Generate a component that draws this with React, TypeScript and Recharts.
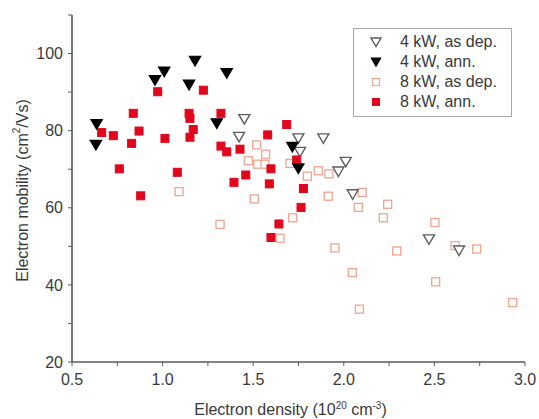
import React from 'react';
import { ScatterChart, Scatter, XAxis, YAxis } from 'recharts';

const asDep4kW = [
  { x: 1.451, y: 83.0 }, { x: 1.422, y: 78.4 }, { x: 1.749, y: 78.0 }, { x: 1.758, y: 74.5 },
  { x: 1.887, y: 78.0 }, { x: 2.011, y: 71.9 }, { x: 1.970, y: 69.4 }, { x: 2.049, y: 63.5 },
  { x: 2.470, y: 51.8 }, { x: 2.636, y: 48.9 },
];
const ann4kW = [
  { x: 0.636, y: 81.7 }, { x: 0.632, y: 76.3 }, { x: 0.958, y: 93.1 }, { x: 1.009, y: 95.3 },
  { x: 1.179, y: 98.1 }, { x: 1.146, y: 91.9 }, { x: 1.354, y: 94.9 }, { x: 1.299, y: 81.9 },
  { x: 1.716, y: 75.8 }, { x: 1.749, y: 70.2 },
];
const asDep8kW = [
  { x: 1.091, y: 64.2 }, { x: 1.506, y: 62.3 }, { x: 1.519, y: 76.3 }, { x: 1.569, y: 73.9 },
  { x: 1.473, y: 72.2 }, { x: 1.525, y: 71.3 }, { x: 1.565, y: 71.3 }, { x: 1.703, y: 71.5 },
  { x: 1.799, y: 68.2 }, { x: 1.859, y: 69.6 }, { x: 1.918, y: 68.8 }, { x: 1.718, y: 57.4 },
  { x: 1.317, y: 55.7 }, { x: 1.648, y: 52.1 }, { x: 1.914, y: 63.0 }, { x: 2.080, y: 60.1 },
  { x: 2.102, y: 64.0 }, { x: 2.242, y: 60.9 }, { x: 2.218, y: 57.4 }, { x: 1.951, y: 49.6 },
  { x: 2.292, y: 48.8 }, { x: 2.047, y: 43.2 }, { x: 2.503, y: 56.2 }, { x: 2.614, y: 50.2 },
  { x: 2.733, y: 49.3 }, { x: 2.507, y: 40.8 }, { x: 2.932, y: 35.4 }, { x: 2.086, y: 33.7 },
];
const ann8kW = [
  { x: 0.973, y: 90.1 }, { x: 1.225, y: 90.5 }, { x: 0.838, y: 84.5 }, { x: 0.664, y: 79.5 },
  { x: 0.728, y: 78.7 }, { x: 0.870, y: 79.9 }, { x: 0.829, y: 76.7 }, { x: 1.013, y: 78.0 },
  { x: 0.761, y: 70.1 }, { x: 0.879, y: 63.1 }, { x: 1.146, y: 84.5 }, { x: 1.151, y: 83.2 },
  { x: 1.169, y: 80.3 }, { x: 1.151, y: 78.3 }, { x: 1.081, y: 69.2 }, { x: 1.322, y: 84.5 },
  { x: 1.322, y: 76.0 }, { x: 1.354, y: 74.5 }, { x: 1.427, y: 75.2 }, { x: 1.394, y: 66.6 },
  { x: 1.459, y: 68.5 }, { x: 1.580, y: 78.9 }, { x: 1.598, y: 70.1 }, { x: 1.589, y: 66.2 },
  { x: 1.685, y: 81.6 }, { x: 1.740, y: 72.4 }, { x: 1.777, y: 65.0 }, { x: 1.764, y: 60.1 },
  { x: 1.642, y: 55.8 }, { x: 1.598, y: 52.3 },
];

const xTicks = [0.5, 0.75, 1.0, 1.25, 1.5, 1.75, 2.0, 2.25, 2.5, 2.75, 3.0];
const yTicks = [20, 30, 40, 50, 60, 70, 80, 90, 100, 110];

const legendLabels = ['4 kW, as dep.', '4 kW, ann.', '8 kW, as dep.', '8 kW, ann.'];

const FONT = '"Liberation Sans", Arial, sans-serif';
const TEXT = '#3a3a3a';
const FRAME = '#5a5a5a';
const RED = '#e0061c';
const SALMON = '#f2a48e';
const GRAY_TRI = '#5e5e5e';

const downTri = (fill: string, stroke: string) => (props: any) => {
  const { cx, cy } = props;
  if (cx == null || cy == null) return <g />;
  const pts = `${cx - 5.5},${cy - 4.5} ${cx + 5.5},${cy - 4.5} ${cx},${cy + 5}`;
  return <polygon points={pts} fill={fill} stroke={stroke} strokeWidth={1.4} />;
};
const square = (fill: string, stroke: string, size: number, sw: number) => (props: any) => {
  const { cx, cy } = props;
  if (cx == null || cy == null) return <g />;
  return <rect x={cx - size / 2} y={cy - size / 2} width={size} height={size} fill={fill} stroke={stroke} strokeWidth={sw} />;
};

const XTitle = (props: any) => {
  const vb = props.viewBox || { x: 72, y: 362, width: 453, height: 57 };
  const cx = vb.x + vb.width / 2 - 8;
  const y = vb.y + 53;
  return (
    <text x={cx} y={y} textAnchor="middle" fontSize={16} fill={TEXT} fontFamily={FONT}>
      Electron density (10
      <tspan dy={-6} fontSize={10}>20</tspan>
      <tspan dy={6}> cm</tspan>
      <tspan dy={-6} fontSize={10}>-3</tspan>
      <tspan dy={6}>)</tspan>
    </text>
  );
};

const YTitle = (props: any) => {
  const vb = props.viewBox || { x: 0, y: 15, width: 72, height: 347 };
  const cx = 22;
  const cy = vb.y + vb.height / 2 + 2;
  return (
    <text x={cx} y={cy} transform={`rotate(-90, ${cx}, ${cy})`} textAnchor="middle" dominantBaseline="central" fontSize={16} fill={TEXT} fontFamily={FONT}>
      Electron mobility (cm
      <tspan dy={-6} fontSize={10}>2</tspan>
      <tspan dy={6}>/Vs)</tspan>
    </text>
  );
};

const xFmt = (v: number) => (Math.abs(v * 2 - Math.round(v * 2)) < 1e-6 ? v.toFixed(1) : '');
const yFmt = (v: number) => (v % 20 === 0 ? String(v) : '');

const LegendMarker = ({ i }: { i: number }) => {
  const c = 7, cy = 7;
  let el: React.ReactNode = null;
  if (i === 0) el = <polygon points={`${c - 5},${cy - 4} ${c + 5},${cy - 4} ${c},${cy + 4.5}`} fill="#fff" stroke={GRAY_TRI} strokeWidth={1.4} />;
  if (i === 1) el = <polygon points={`${c - 5},${cy - 4} ${c + 5},${cy - 4} ${c},${cy + 4.5}`} fill="#000" stroke="#000" strokeWidth={1} />;
  if (i === 2) el = <rect x={c - 3.5} y={cy - 3.5} width={7} height={7} fill="#fff" stroke={SALMON} strokeWidth={1.2} />;
  if (i === 3) el = <rect x={c - 4} y={cy - 4} width={8} height={8} fill={RED} />;
  return <svg width={14} height={14} style={{ position: 'absolute', left: 15, top: -7 }}>{el}</svg>;
};

export default function App() {
  return (
    <div style={{ position: 'absolute', left: 0, top: 0, width: 539, height: 419, background: '#fff' }}>
      <ScatterChart width={539} height={419} margin={{ top: 15, right: 14, left: 0, bottom: 0 }}>
        <XAxis
          type="number" dataKey="x" domain={[0.5, 3]} ticks={xTicks} allowDataOverflow
          height={57} tickFormatter={xFmt} tickSize={4} tickMargin={8}
          axisLine={{ stroke: FRAME, strokeWidth: 1.6 }} tickLine={{ stroke: FRAME }}
          tick={{ fill: TEXT, fontSize: 16, fontFamily: FONT }}
          label={<XTitle />} interval={0}
        />
        <XAxis
          xAxisId="top" orientation="top" type="number" dataKey="x" domain={[0.5, 3]} ticks={xTicks}
          allowDataOverflow height={0} mirror tickFormatter={() => ''} tickSize={3}
          axisLine={{ stroke: FRAME, strokeWidth: 1.6 }} tickLine={{ stroke: FRAME }} interval={0}
        />
        <YAxis
          type="number" dataKey="y" domain={[20, 110]} ticks={yTicks} allowDataOverflow
          width={72} tickFormatter={yFmt} tickSize={4} tickMargin={5}
          axisLine={{ stroke: FRAME, strokeWidth: 1.6 }} tickLine={{ stroke: FRAME }}
          tick={{ fill: TEXT, fontSize: 16, fontFamily: FONT }}
          label={<YTitle />} interval={0}
        />
        <YAxis
          yAxisId="right" orientation="right" type="number" dataKey="y" domain={[20, 110]} ticks={yTicks}
          allowDataOverflow width={0} mirror tickFormatter={() => ''} tickSize={3}
          axisLine={{ stroke: FRAME, strokeWidth: 1.6 }} tickLine={{ stroke: FRAME }} interval={0}
        />
        <Scatter name={legendLabels[2]} data={asDep8kW} shape={square('#fff', SALMON, 8, 1.3)} isAnimationActive={false} />
        <Scatter name={legendLabels[0]} data={asDep4kW} shape={downTri('#fff', GRAY_TRI)} isAnimationActive={false} />
        <Scatter name={legendLabels[3]} data={ann8kW} shape={square(RED, RED, 8, 1)} isAnimationActive={false} />
        <Scatter name={legendLabels[1]} data={ann4kW} shape={downTri('#000', '#000')} isAnimationActive={false} />
      </ScatterChart>
      <div
        style={{
          position: 'absolute', left: 353, top: 28, width: 159, height: 89, boxSizing: 'border-box',
          border: '1px solid #a8a8a8', background: '#fff', fontFamily: FONT, fontSize: 16, color: TEXT,
        }}
      >
        {legendLabels.map((lab, i) => (
          <div key={lab} style={{ position: 'absolute', left: 0, top: 13 + i * 20, height: 0 }}>
            <LegendMarker i={i} />
            <span style={{ position: 'absolute', left: 46, top: -10, whiteSpace: 'nowrap', lineHeight: '20px' }}>{lab}</span>
          </div>
        ))}
      </div>
    </div>
  );
}
